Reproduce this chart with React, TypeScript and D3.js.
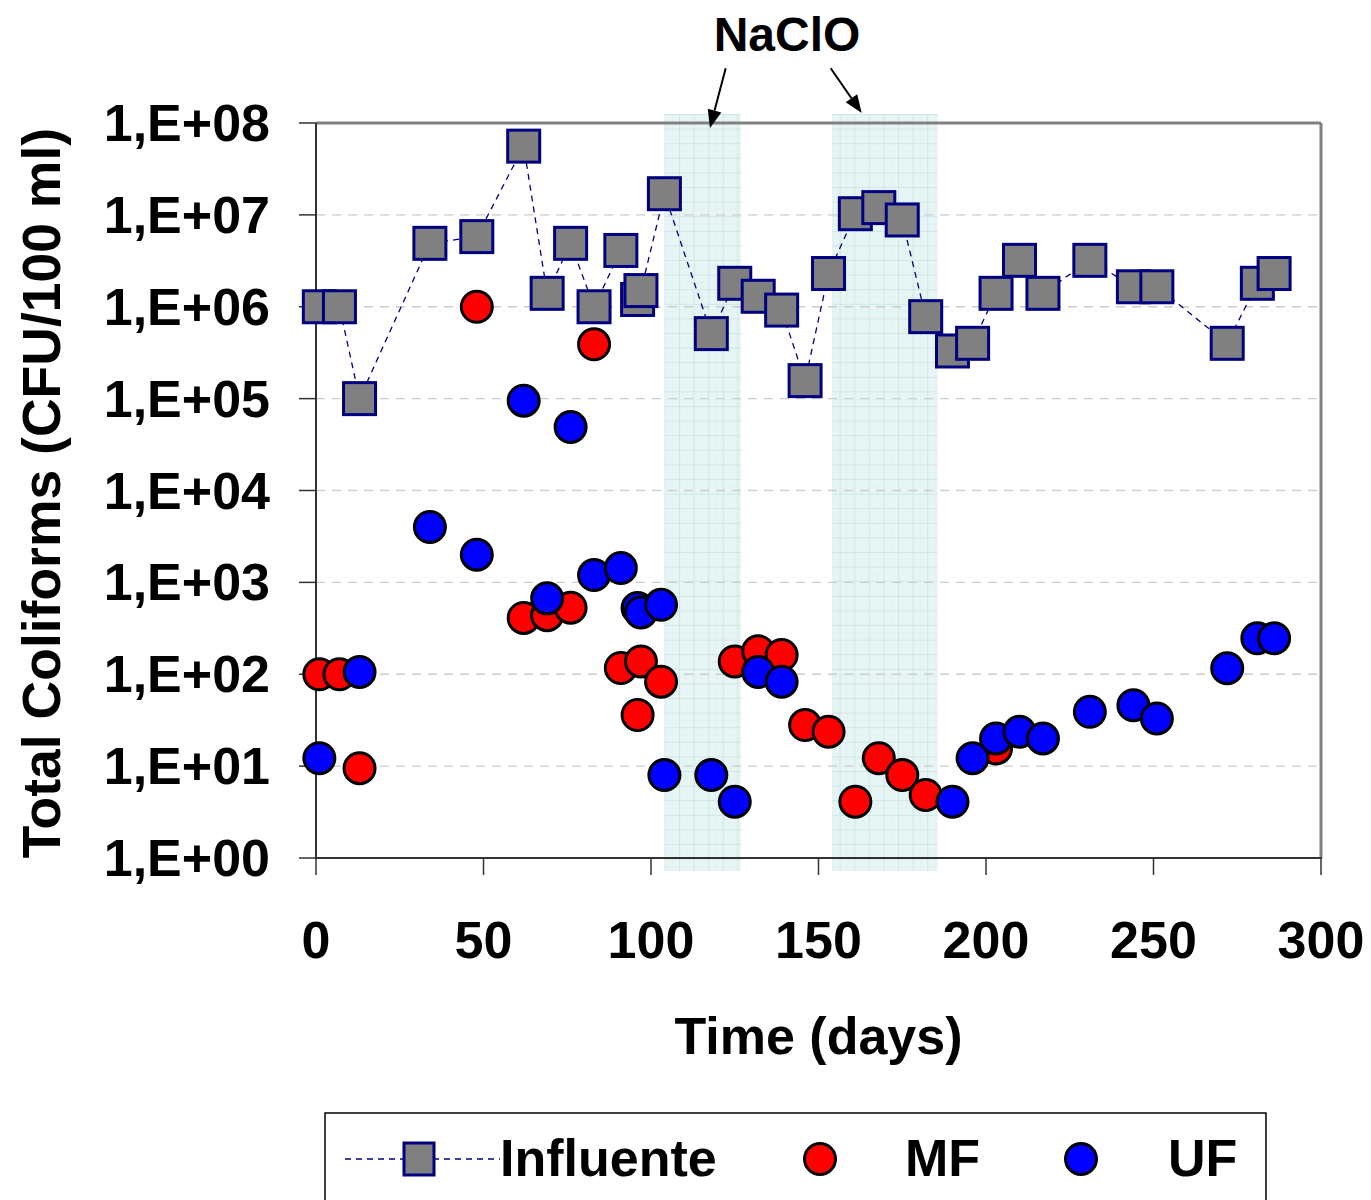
import React from "react";
import * as d3 from "d3";

const influentDays = [1, 7, 13, 34, 48, 62, 69, 76, 83, 91, 96, 97, 104, 118, 125, 132, 139, 146, 153, 161, 168, 175, 182, 190, 196, 203, 210, 217, 231, 244, 251, 272, 281, 286];
const influentValues = [1e6, 1e6, 1e5, 4.9e6, 5.8e6, 5.6e7, 1.4e6, 4.9e6, 1e6, 4.1e6, 1.2e6, 1.5e6, 1.7e7, 5.1e5, 1.8e6, 1.3e6, 9.2e5, 1.57e5, 2.3e6, 1.03e7, 1.2e7, 8.8e6, 7.8e5, 3.3e5, 4e5, 1.4e6, 3.2e6, 1.4e6, 3.2e6, 1.65e6, 1.65e6, 4e5, 1.8e6, 2.3e6];

const mfDays = [1, 7, 13, 48, 62, 69, 76, 83, 91, 96, 97, 103, 125, 132, 139, 146, 153, 161, 168, 175, 182, 203];
const mfValues = [100, 100, 9.5, 1e6, 410, 440, 530, 3.9e5, 117, 36, 138, 83, 138, 178, 162, 28, 23.7, 4.1, 12.2, 8.0, 4.85, 15.6];

const ufDays = [1, 13, 34, 48, 62, 69, 76, 83, 91, 96, 97, 103, 104, 118, 125, 132, 139, 190, 196, 203, 210, 217, 231, 244, 251, 272, 281, 286];
const ufValues = [12.2, 106, 4000, 2000, 9.5e4, 670, 4.9e4, 1200, 1430, 525, 471, 570, 8, 8, 4.1, 106, 83, 4.1, 12.2, 20, 23.7, 20, 39, 46, 33, 116, 246, 246];

const naclioStart = [104, 154];
const naclioEnd = [126.8, 185.6];
const arrowTipDays = [117.6, 162.9];

const yTickValues = [1, 10, 100, 1e3, 1e4, 1e5, 1e6, 1e7, 1e8];
const yTickLabels = ["1,E+00", "1,E+01", "1,E+02", "1,E+03", "1,E+04", "1,E+05", "1,E+06", "1,E+07", "1,E+08"];
const xTickValues = [0, 50, 100, 150, 200, 250, 300];

const FONT = "'Liberation Sans', Arial, Helvetica, sans-serif";

export default function App() {
  const W = 1371, H = 1200;
  const left = 316, right = 1321, top = 123, bottom = 858;
  const x = d3.scaleLinear().domain([0, 300]).range([left, right]);
  const y = d3.scaleLog().domain([1, 1e8]).range([bottom, top]);

  const inf = influentDays.map((d, i) => [d, influentValues[i]] as [number, number]);
  const line = d3.line<[number, number]>().x(d => x(d[0])).y(d => y(d[1]));

  const sq = 32;
  const r = 15.5;

  return (
    <svg width={W} height={H} style={{ position: "absolute", left: 0, top: 0, display: "block", background: "#fff" }} fontFamily={FONT}>
      <defs>
        <pattern id="gridpat" patternUnits="userSpaceOnUse" x={x(naclioStart[0])} y={114} width={14.6} height={14.6}>
          <rect width={14.6} height={14.6} fill="#e8f5f5" />
          <path d="M0 0.5 H14.6 M0.5 0 V14.6" stroke="#cde6e6" strokeWidth={1} />
          <path d="M0 7.8 H14.6 M7.8 0 V14.6" stroke="#dcefef" strokeWidth={0.7} />
        </pattern>
      </defs>
      <rect x={0} y={0} width={W} height={H} fill="#fff" />

      {naclioStart.map((s, i) => (
        <rect key={"sh" + i} x={x(s)} y={114} width={x(naclioEnd[i]) - x(s)} height={871 - 114} fill="url(#gridpat)" />
      ))}

      {yTickValues.slice(1, -1).map((v, i) => (
        <line key={"g" + i} x1={left} x2={right} y1={y(v)} y2={y(v)} stroke="#cccccc" strokeWidth={1.3} strokeDasharray="9,7" />
      ))}

      <line x1={left} x2={right} y1={top} y2={top} stroke="#808080" strokeWidth={3} />
      <line x1={right} x2={right} y1={top} y2={bottom} stroke="#808080" strokeWidth={3} />
      <line x1={left} x2={left} y1={top} y2={bottom + 1} stroke="#333" strokeWidth={2} />
      <line x1={left - 1} x2={right + 1} y1={bottom} y2={bottom} stroke="#333" strokeWidth={2} />

      {yTickValues.map((v, i) => (
        <g key={"yt" + i}>
          <line x1={left - 17} x2={left} y1={y(v)} y2={y(v)} stroke="#333" strokeWidth={1.5} />
          <text x={270} y={y(v) + 18} textAnchor="end" fontSize={52} fontWeight="bold" fill="#000">{yTickLabels[i]}</text>
        </g>
      ))}

      {xTickValues.map((v, i) => (
        <g key={"xt" + i}>
          <line x1={x(v)} x2={x(v)} y1={bottom} y2={bottom + 17} stroke="#333" strokeWidth={1.5} />
          <text x={x(v)} y={958} textAnchor="middle" fontSize={52} fontWeight="bold" fill="#000">{v}</text>
        </g>
      ))}

      <text x={(left + right) / 2} y={1054} textAnchor="middle" fontSize={52} fontWeight="bold" fill="#000">Time (days)</text>
      <text transform={`translate(60, ${(128 + 858) / 2}) rotate(-90)`} textAnchor="middle" fontSize={53.5} fontWeight="bold" fill="#000">Total Coliforms (CFU/100 ml)</text>

      <text x={787} y={51} textAnchor="middle" fontSize={48} fontWeight="bold" fill="#000">NaClO</text>
      {arrowTipDays.map((d, i) => {
        const tipX = x(d);
        const tipY = i === 0 ? 128 : 113;
        const startX = i === 0 ? 725.7 : 830.7;
        const startY = 68.3;
        const ang = Math.atan2(tipY - startY, tipX - startX);
        const L = 18, Wd = 7;
        const bx = tipX - L * Math.cos(ang), by = tipY - L * Math.sin(ang);
        const px = -Math.sin(ang) * Wd, py = Math.cos(ang) * Wd;
        return (
          <g key={"ar" + i}>
            <line x1={startX} y1={startY} x2={bx} y2={by} stroke="#000" strokeWidth={2} />
            <polygon points={`${tipX},${tipY} ${bx + px},${by + py} ${bx - px},${by - py}`} fill="#000" />
          </g>
        );
      })}

      <path d={line(inf) || ""} fill="none" stroke="#000080" strokeWidth={1.3} strokeDasharray="6,5" />
      {inf.map((d, i) => (
        <rect key={"inf" + i} x={x(d[0]) - sq / 2} y={y(d[1]) - sq / 2} width={sq} height={sq} fill="#808080" stroke="#000080" strokeWidth={3} />
      ))}

      {mfDays.map((d, i) => (
        <circle key={"mf" + i} cx={x(d)} cy={y(mfValues[i])} r={r} fill="#ff0000" stroke="#000" strokeWidth={3} />
      ))}

      {ufDays.map((d, i) => (
        <circle key={"uf" + i} cx={x(d)} cy={y(ufValues[i])} r={r} fill="#0000ff" stroke="#000" strokeWidth={3} />
      ))}

      <rect x={325} y={1113} width={941} height={120} fill="#fff" stroke="#000" strokeWidth={1.5} />
      <line x1={345} x2={500} y1={1159} y2={1159} stroke="#000080" strokeWidth={1.3} strokeDasharray="6,5" />
      <rect x={419 - 15} y={1159 - 16} width={30} height={32} fill="#808080" stroke="#000080" strokeWidth={3} />
      <text x={500} y={1176} fontSize={52} fontWeight="bold" fill="#000">Influente</text>
      <circle cx={820} cy={1159} r={r} fill="#ff0000" stroke="#000" strokeWidth={3} />
      <text x={905} y={1176} fontSize={52} fontWeight="bold" fill="#000">MF</text>
      <circle cx={1081} cy={1159} r={r} fill="#0000ff" stroke="#000" strokeWidth={3} />
      <text x={1168} y={1176} fontSize={52} fontWeight="bold" fill="#000">UF</text>
    </svg>
  );
}
